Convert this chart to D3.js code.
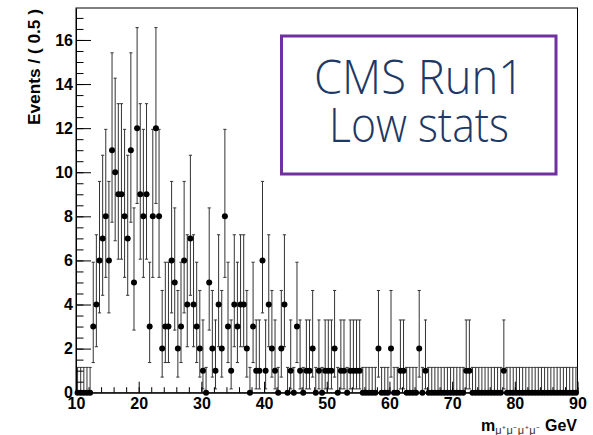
<!DOCTYPE html>
<html lang="en">
<head>
  <meta charset="utf-8" />
  <style>
    body { margin: 0; background: #fff; }
    svg { display: block; font-family: "Liberation Sans", Arial, sans-serif; }
    .axis text { font-weight: bold; font-size: 16px; fill: #000; }
    .axis path, .axis line { stroke: #000; stroke-width: 1px; }
    .err { stroke: #333; stroke-width: 1px; fill: none; }
  </style>
</head>
<body>
<svg width="593" height="435"></svg>
<script src="https://d3js.org/d3.v7.min.js"></script>
<script>
// binning of the histogram
var xMin = 10,
    xMax = 90,
    binWidth = 0.5;

// events per 0.5 GeV bin (160 bins, 10 -> 90)
var counts = [
  0, 0, 0, 0, 0, 3, 4, 6, 7, 8,
  6, 11, 10, 9, 9, 8, 7, 11, 5, 12,
  9, 8, 9, 3, 8, 12, 8, 2, 3, 3,
  6, 5, 2, 3, 6, 4, 7, 4, 3, 2,
  1, 0, 5, 2, 1, 4, 2, 8, 3, 1,
  4, 3, 4, 4, 2, 0, 3, 1, 1, 6,
  1, 4, 2, 1, 0, 2, 4, 0, 1, 0,
  3, 1, 0, 1, 1, 2, 0, 1, 0, 1,
  1, 1, 2, 0, 1, 1, 0, 1, 1, 1,
  1, 0, 0, 0, 0, 0, 2, 0, 0, 0,
  2, 0, 0, 1, 1, 0, 0, 0, 0, 2,
  0, 1, 0, 0, 0, 0, 0, 0, 0, 0,
  0, 0, 0, 0, 1, 1, 0, 0, 0, 0,
  0, 0, 0, 0, 0, 0, 1, 0, 0, 0,
  0, 0, 0, 0, 0, 0, 0, 0, 0, 0,
  0, 0, 0, 0, 0, 0, 0, 0, 0, 0
];

var xTicks = [10, 20, 30, 40, 50, 60, 70, 80, 90];
var yTicks = [0, 2, 4, 6, 8, 10, 12, 14, 16];
var yTitle = "Events / ( 0.5 )";
var boxLines = ["CMS Run1", "Low stats"];

var svg = d3.select("svg");

var x = d3.scaleLinear().domain([xMin, xMax]).range([76, 577.5]),
    y = d3.scaleLinear().domain([0, 17.45]).range([392.7, 8]);

// poisson 68% interval, the way RooFit draws it
function poisCdf(n, mu) {
  var term = Math.exp(-mu), s = term;
  for (var k = 1; k <= n; k++) { term *= mu / k; s += term; }
  return s;
}
function solve(n, target) {
  var lo = 0, hi = 100;
  for (var i = 0; i < 80; i++) {
    var mid = (lo + hi) / 2;
    if (poisCdf(n, mid) > target) lo = mid; else hi = mid;
  }
  return (lo + hi) / 2;
}
function interval(n) {
  if (n === 0) return [0, solve(0, 0.317311)];
  return [solve(n - 1, 0.841345), solve(n, 0.158655)];
}

var bins = counts.map(function(c, i) {
  var lo = xMin + i * binWidth;
  return { lo: lo, hi: lo + binWidth, mid: lo + binWidth / 2, n: c, e: interval(c) };
});

// frame
svg.append("rect")
  .attr("x", x(xMin)).attr("y", y.range()[1])
  .attr("width", x(xMax) - x(xMin)).attr("height", y(0) - y.range()[1])
  .attr("fill", "none").attr("stroke", "#000");

// error bars
var g = svg.append("g");
var cap = 1.6;
bins.forEach(function(b) {
  var cx = x(b.mid);
  g.append("line").attr("class", "err")
    .attr("x1", cx).attr("x2", cx).attr("y1", y(b.e[0])).attr("y2", y(b.e[1]));
  g.append("line").attr("class", "err")
    .attr("x1", cx - cap).attr("x2", cx + cap).attr("y1", y(b.e[1])).attr("y2", y(b.e[1]));
  g.append("line").attr("class", "err")
    .attr("x1", cx - cap).attr("x2", cx + cap).attr("y1", y(b.e[0])).attr("y2", y(b.e[0]));
  g.append("line").attr("class", "err")
    .attr("x1", x(b.lo)).attr("x2", x(b.hi)).attr("y1", y(b.n)).attr("y2", y(b.n));
});

g.selectAll("circle")
  .data(bins)
  .enter().append("circle")
  .attr("cx", function(d) { return x(d.mid); })
  .attr("cy", function(d) { return y(d.n); })
  .attr("r", 3)
  .attr("fill", "#000");

// axes, ticks pointing inwards like ROOT
svg.append("g").attr("class", "axis")
  .attr("transform", "translate(0," + y(0) + ")")
  .call(d3.axisBottom(x).tickValues(d3.range(xMin, xMax + 0.1, 2)).tickSize(-5.5).tickFormat(""))
  .call(function(s) { s.select(".domain").remove(); });
svg.append("g").attr("class", "axis")
  .attr("transform", "translate(0," + y(0) + ")")
  .call(d3.axisBottom(x).tickValues(xTicks).tickSize(-11).tickSizeOuter(0).tickPadding(5).tickFormat(d3.format("d")));

svg.append("g").attr("class", "axis")
  .attr("transform", "translate(" + x(xMin) + ",0)")
  .call(d3.axisLeft(y).tickValues(d3.range(0, 17.45, 0.5)).tickSize(-7.5).tickFormat(""))
  .call(function(s) { s.select(".domain").remove(); });
svg.append("g").attr("class", "axis")
  .attr("transform", "translate(" + x(xMin) + ",0)")
  .call(d3.axisLeft(y).tickValues(yTicks).tickSize(-15).tickSizeOuter(0).tickPadding(3).tickFormat(d3.format("d")));

// axis titles
svg.append("text")
  .attr("transform", "translate(40,9) rotate(-90)")
  .attr("text-anchor", "end")
  .style("font-weight", "bold").style("font-size", "16px")
  .attr("textLength", 116).attr("lengthAdjust", "spacingAndGlyphs")
  .text(yTitle);

var xt = svg.append("text")
  .attr("x", 577).attr("y", 431)
  .attr("text-anchor", "end")
  .style("font-weight", "bold").style("font-size", "16px");
xt.append("tspan").text("m");
xt.append("tspan").attr("dy", 3).style("font-size", "11px").style("font-weight", "normal")
  .style("letter-spacing", "0.5px")
  .attr("fill", "#333").text("\u03bc\u207a\u03bc\u207b\u03bc\u207a\u03bc\u207b");
xt.append("tspan").attr("dy", -3).text(" GeV");

// annotation box
svg.append("rect")
  .attr("x", 281.5).attr("y", 36).attr("width", 274.5).attr("height", 138)
  .attr("fill", "#fff").attr("stroke", "#7030a0").attr("stroke-width", 3);

svg.selectAll(".boxtxt")
  .data(boxLines)
  .enter().append("text")
  .attr("class", "boxtxt")
  .attr("x", 419).attr("y", function(d, i) { return 94 + i * 48; })
  .attr("text-anchor", "middle")
  .attr("textLength", function(d, i) { return i === 0 ? 210 : 180; })
  .attr("lengthAdjust", "spacingAndGlyphs")
  .style("font-family", "'Open Sans', 'Noto Sans', sans-serif")
  .style("font-weight", 300).style("font-size", "47px")
  .attr("fill", "#203864")
  .text(function(d) { return d; });
</script>
</body>
</html>
